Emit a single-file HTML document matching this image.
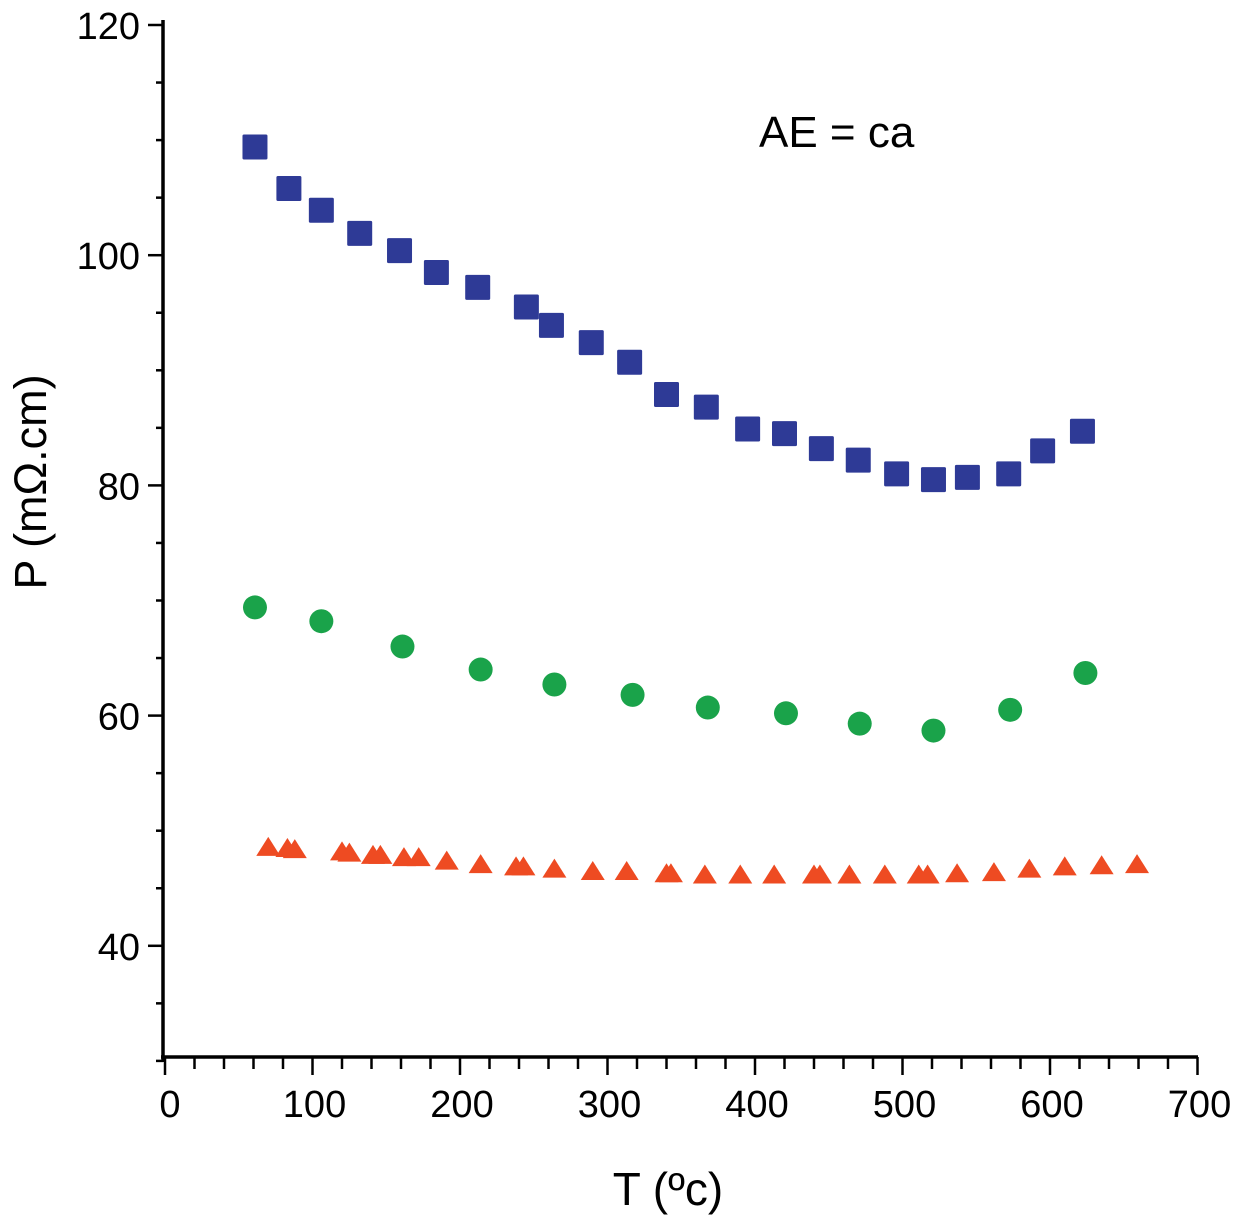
<!DOCTYPE html>
<html><head><meta charset="utf-8"><style>
html,body{margin:0;padding:0;background:#fff;}
svg{display:block;font-family:"Liberation Sans",sans-serif;}
</style></head><body>
<svg id="chart" width="1236" height="1216">
<g id="axes"></g>
<g id="marks"></g>
<text x="759" y="147" font-size="44">AE = ca</text>
<text x="668" y="1205" font-size="46" text-anchor="middle">T (ºc)</text>
<text transform="translate(46,482) rotate(-90)" font-size="45" text-anchor="middle">P (mΩ.cm)</text>
</svg>
<script>
const xTicks=[0,100,200,300,400,500,600,700];
const yTicks=[40,60,80,100,120];
const sqX=[61,84,106,132,159,184,212,245,262,289,315,340,367,395,420,445,470,496,521,544,572,595,622];
const sqY=[109.4,105.8,103.9,101.9,100.4,98.5,97.2,95.5,93.9,92.4,90.7,87.9,86.8,84.9,84.5,83.2,82.2,81.0,80.5,80.7,81.0,83.0,84.7];
const ciX=[61,106,161,214,264,317,368,421,471,521,573,624];
const ciY=[69.4,68.2,66.0,64.0,62.7,61.8,60.7,60.2,59.3,58.7,60.5,63.7];
const trX=[70,83,88,120,125,141,146,162,172,191,214,238,243,264,290,313,340,343,366,390,413,440,444,464,488,511,517,537,562,586,610,635,659];
const trY=[48.6,48.5,48.4,48.2,48.1,47.9,47.9,47.7,47.7,47.4,47.1,46.9,46.9,46.7,46.5,46.5,46.3,46.3,46.2,46.2,46.2,46.2,46.2,46.2,46.2,46.2,46.2,46.3,46.4,46.7,46.9,47.0,47.1];
const NS='http://www.w3.org/2000/svg';
const X=v=>165+v*1.475;
const Y=v=>25+(120-v)*11.51;
const axes=document.getElementById('axes'),marks=document.getElementById('marks');
function mk(tag,attrs,parent){const e=document.createElementNS(NS,tag);for(const k in attrs)e.setAttribute(k,attrs[k]);parent.appendChild(e);return e;}
let l=mk('line',{x1:163,y1:20,x2:163,y2:1062,stroke:'#000','stroke-width':3.5},axes);


l=mk('line',{x1:161,y1:1057,x2:1198,y2:1057,stroke:'#000','stroke-width':3.5},axes);


for(let v=30;v<=120;v+=5){const maj=v%20===0;const t=mk('line',{x1:maj?148:156,y1:Y(v),x2:163,y2:Y(v),stroke:'#000','stroke-width':2.5},axes);

}
for(let v=0;v<=700;v+=20){const maj=v%100===0;const t=mk('line',{x1:X(v),y1:1057,x2:X(v),y2:maj?1075:1069,stroke:'#000','stroke-width':2.5},axes);

}
yTicks.forEach(v=>{const t=mk('text',{x:140,y:Y(v)+14,'font-size':38,'text-anchor':'end'},axes);t.textContent=v;

});
xTicks.forEach(v=>{const t=mk('text',{x:v===0?170:X(v)+2,y:1117,'font-size':38,'text-anchor':'middle'},axes);t.textContent=v;

});
sqX.forEach((v,i)=>{const r=mk('rect',{x:X(v)-12.5,y:Y(sqY[i])-12.5,width:25,height:25,fill:'#2e3a96',rx:1.5},marks);

});
ciX.forEach((v,i)=>{const c=mk('circle',{cx:X(v),cy:Y(ciY[i]),r:12,fill:'#1aa34a'},marks);

});
trX.forEach((v,i)=>{const x=X(v),y=Y(trY[i]);const p=mk('polygon',{points:`${x-12},${y+9} ${x+12},${y+9} ${x},${y-10}`,fill:'#ee4b22'},marks);

});
</script>
</body></html>
